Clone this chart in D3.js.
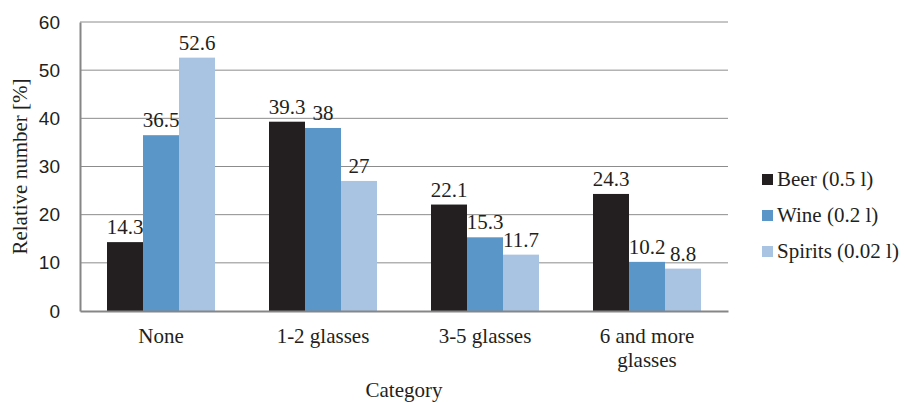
<!DOCTYPE html>
<html>
<head>
<meta charset="utf-8">
<script src="https://cdn.jsdelivr.net/npm/d3@7"></script>
<style>
  html, body { margin: 0; padding: 0; background: #fff; }
  svg { display: block; }
</style>
</head>
<body>
<svg id="chart" width="905" height="403"></svg>
<script>
const categories = ["None", "1-2 glasses", "3-5 glasses", "6 and more glasses"];
const seriesNames = ["Beer (0.5 l)", "Wine (0.2 l)", "Spirits (0.02 l)"];
const beer = [14.3, 39.3, 22.1, 24.3];
const wine = [36.5, 38, 15.3, 10.2];
const spirits = [52.6, 27, 11.7, 8.8];
const yTicks = [0, 10, 20, 30, 40, 50, 60];
const colors = ["#231f20", "#5b96c9", "#a9c3e2"];
const yTitle = "Relative number [%]";
const xTitle = "Category";

const seriesValues = [beer, wine, spirits];

const svg = d3.select("#chart");
const margin = { left: 80, right: 177, top: 22, bottom: 92 };
const W = 905, H = 403;
const serif = "'Liberation Serif', 'Times New Roman', serif";
const sans = "'Liberation Sans', Arial, sans-serif";

const x = d3.scaleBand().domain(categories)
  .range([margin.left, W - margin.right])
  .paddingInner(1/3).paddingOuter(1/6);
const xs = d3.scaleBand().domain(d3.range(seriesNames.length)).range([0, x.bandwidth()]);
const y = d3.scaleLinear().domain([0, 60]).range([H - margin.bottom, margin.top]);

// gridlines
svg.append("g").selectAll("line").data(yTicks.filter(t => t > 0)).join("line")
  .attr("x1", margin.left).attr("x2", W - margin.right)
  .attr("y1", d => y(d)).attr("y2", d => y(d))
  .attr("stroke", "#8c8c8c").attr("stroke-width", 1);

// bars
const rows = categories.map((c, i) => ({ c, vals: seriesValues.map(s => s[i]) }));
const groups = svg.append("g").selectAll("g").data(rows).join("g")
  .attr("transform", d => `translate(${x(d.c)},0)`);
groups.selectAll("rect").data(d => d.vals.map((v, j) => ({ v, j }))).join("rect")
  .attr("x", d => xs(d.j)).attr("width", xs.bandwidth())
  .attr("y", d => y(d.v)).attr("height", d => y(0) - y(d.v))
  .attr("fill", d => colors[d.j]);
groups.selectAll("text").data(d => d.vals.map((v, j) => ({ v, j }))).join("text")
  .attr("x", d => xs(d.j) + xs.bandwidth() / 2)
  .attr("y", d => y(d.v) - 8)
  .attr("text-anchor", "middle")
  .attr("font-family", serif).attr("font-size", 21).attr("fill", "#231f20")
  .text(d => d.v);

// y axis
const yAxis = d3.axisLeft(y).tickValues(yTicks).tickSize(0).tickPadding(20);
const ya = svg.append("g").attr("transform", `translate(${margin.left},0)`).call(yAxis);
ya.select(".domain").attr("stroke", "#868686").attr("stroke-width", 2);
ya.selectAll("text").attr("font-family", sans).attr("font-size", 19).attr("fill", "#231f20");

// x axis
const xAxis = d3.axisBottom(x).tickSize(0).tickPadding(0);
const xa = svg.append("g").attr("transform", `translate(0,${y(0)})`).call(xAxis);
xa.select(".domain").attr("stroke", "#868686").attr("stroke-width", 2);
xa.selectAll("text").remove();
xa.selectAll(".tick").each(function(d) {
  const t = d3.select(this).append("text")
    .attr("text-anchor", "middle").attr("font-family", serif).attr("font-size", 21)
    .attr("fill", "#231f20");
  const lines = d === "6 and more glasses" ? ["6 and more", "glasses"] : [d];
  lines.forEach((ln, k) => t.append("tspan").attr("x", 0).attr("y", 32 + k * 24).text(ln));
});

// axis titles
svg.append("text")
  .attr("transform", `translate(27,${(y(0) + y(60)) / 2}) rotate(-90)`)
  .attr("text-anchor", "middle").attr("font-family", serif).attr("font-size", 21)
  .attr("fill", "#231f20").text(yTitle);
svg.append("text")
  .attr("x", (margin.left + W - margin.right) / 2).attr("y", 397)
  .attr("text-anchor", "middle").attr("font-family", serif).attr("font-size", 21)
  .attr("fill", "#231f20").text(xTitle);

// legend
const lg = svg.append("g").selectAll("g").data(seriesNames).join("g")
  .attr("transform", (d, i) => `translate(762,${174 + i * 36})`);
lg.append("rect").attr("width", 11).attr("height", 11).attr("fill", (d, i) => colors[i]);
lg.append("text").attr("x", 15).attr("y", 12)
  .attr("font-family", serif).attr("font-size", 21).attr("fill", "#231f20")
  .text(d => d);
</script>
</body>
</html>
